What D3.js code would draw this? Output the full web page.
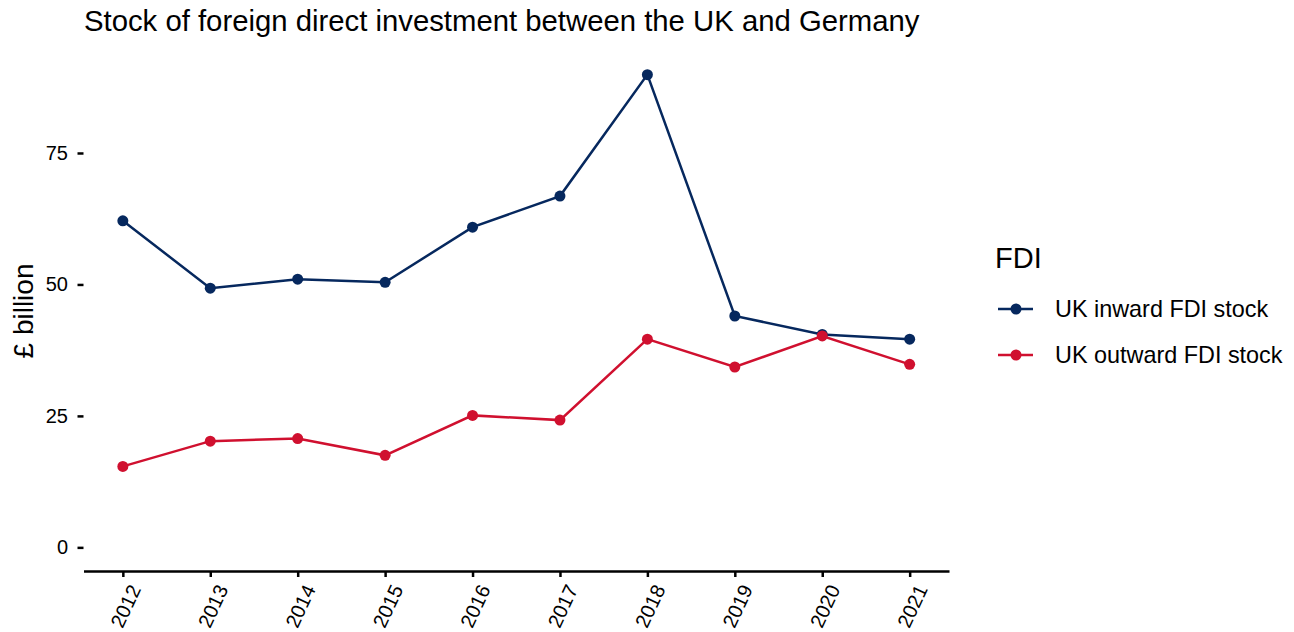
<!DOCTYPE html>
<meta charset="utf-8">
<script src="https://d3js.org/d3.v7.js"></script>
<style>
  body { margin: 0; background: #fff; }
  text { font-family: "Liberation Sans", Arial, sans-serif; fill: #000; }
</style>
<body>
<div id="chart"></div>
<script>
  // data
  const years = [2012, 2013, 2014, 2015, 2016, 2017, 2018, 2019, 2020, 2021];
  const inward = [62.1, 49.3, 51.0, 50.4, 60.9, 66.8, 89.9, 44.0, 40.5, 39.6];
  const outward = [15.4, 20.2, 20.7, 17.5, 25.1, 24.2, 39.6, 34.3, 40.2, 34.8];
  const seriesNames = ["UK inward FDI stock", "UK outward FDI stock"];
  const yTicks = [0, 25, 50, 75];

  const width = 1294, height = 632;
  const panel = {left: 83.5, right: 949, top: 51, bottom: 571};

  const svg = d3.select("#chart").append("svg")
    .attr("width", width)
    .attr("height", height);

  const color = d3.scaleOrdinal()
    .domain(seriesNames)
    .range(["#06285e", "#d0102f"]);

  // continuous x with 5% padding like ggplot
  const xPad = (years[years.length - 1] - years[0]) * 0.05;
  const x = d3.scaleLinear()
    .domain([years[0] - xPad, years[years.length - 1] + xPad])
    .range([panel.left, panel.right]);

  const yMax = d3.max(inward.concat(outward));
  const yPad = yMax * 0.05;
  const y = d3.scaleLinear()
    .domain([0 - yPad, yMax + yPad])
    .range([panel.bottom, panel.top]);

  // x axis
  const xAxis = svg.append("g")
    .attr("transform", `translate(0, ${panel.bottom})`)
    .call(d3.axisBottom(x).tickValues(years).tickFormat(d3.format("d")).tickSize(6).tickSizeOuter(0));
  xAxis.select(".domain").attr("stroke", "#000").attr("stroke-width", 2.5);
  xAxis.selectAll(".tick line").attr("stroke", "#000").attr("stroke-width", 2.5);
  xAxis.selectAll(".tick text")
    .attr("font-size", 20)
    .attr("font-family", "Liberation Sans, Arial, sans-serif")
    .attr("fill", "#000")
    .attr("text-anchor", "end")
    .attr("dy", null)
    .attr("y", 0)
    .attr("transform", "translate(18, 18) rotate(-65)");

  // y axis, ticks only
  const yAxis = svg.append("g")
    .attr("transform", `translate(${panel.left}, 0)`)
    .call(d3.axisLeft(y).tickValues(yTicks).tickSize(6).tickPadding(9.5));
  yAxis.select(".domain").remove();
  yAxis.selectAll(".tick line").attr("stroke", "#000").attr("stroke-width", 2.5);
  yAxis.selectAll(".tick text")
    .attr("font-size", 20)
    .attr("font-family", "Liberation Sans, Arial, sans-serif")
    .attr("fill", "#000");

  // lines + points
  const series = [
    {name: seriesNames[0], values: inward},
    {name: seriesNames[1], values: outward}
  ];
  const line = d3.line()
    .x((d, i) => x(years[i]))
    .y(d => y(d));

  series.forEach(s => {
    svg.append("path")
      .datum(s.values)
      .attr("d", line)
      .attr("fill", "none")
      .attr("stroke", color(s.name))
      .attr("stroke-width", 2.5);
    svg.selectAll(null)
      .data(s.values)
      .join("circle")
      .attr("cx", (d, i) => x(years[i]))
      .attr("cy", d => y(d))
      .attr("r", 5.5)
      .attr("fill", color(s.name));
  });

  // title
  svg.append("text")
    .attr("x", 84)
    .attr("y", 31)
    .attr("font-size", 29.3)
    .text("Stock of foreign direct investment between the UK and Germany");

  // y label
  svg.append("text")
    .attr("transform", `translate(33, ${(panel.top + panel.bottom) / 2}) rotate(-90)`)
    .attr("text-anchor", "middle")
    .attr("font-size", 28)
    .text("£ billion");

  // legend
  const legend = svg.append("g").attr("transform", "translate(995, 0)");
  legend.append("text")
    .attr("x", 0)
    .attr("y", 268)
    .attr("font-size", 29)
    .text("FDI");
  series.forEach((s, i) => {
    const ly = 309 + i * 46;
    legend.append("line")
      .attr("x1", 3).attr("x2", 38)
      .attr("y1", ly).attr("y2", ly)
      .attr("stroke", color(s.name))
      .attr("stroke-width", 2.5);
    legend.append("circle")
      .attr("cx", 21).attr("cy", ly).attr("r", 5.5)
      .attr("fill", color(s.name));
    legend.append("text")
      .attr("x", 60)
      .attr("y", ly)
      .attr("dy", "0.35em")
      .attr("font-size", 23.4)
      .text(s.name);
  });
</script>
</body>
